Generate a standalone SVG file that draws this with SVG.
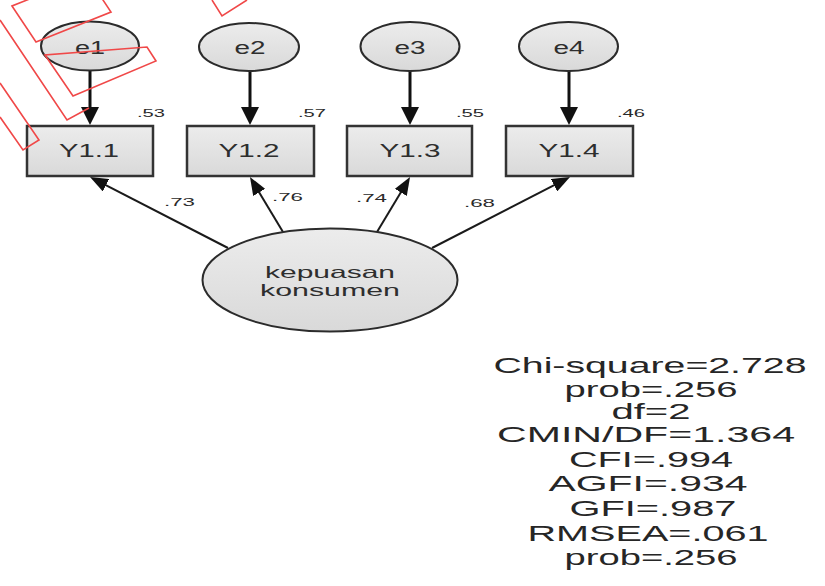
<svg xmlns="http://www.w3.org/2000/svg" width="825" height="586" viewBox="0 0 825 586">
  <defs>
    <linearGradient id="shade" x1="0" y1="0" x2="0" y2="1">
      <stop offset="0" stop-color="#ececec"/>
      <stop offset="1" stop-color="#d9d9d9"/>
    </linearGradient>
    <!-- arrowhead for the vertical error paths -->
    <marker id="headV" markerUnits="userSpaceOnUse" markerWidth="18" markerHeight="18" viewBox="0 0 18 18" refX="9" refY="9" orient="auto">
      <path d="M0,0 L18,9 L0,18 z" fill="#111"/>
    </marker>
    <!-- arrowhead for the factor loadings -->
    <marker id="headD" markerUnits="userSpaceOnUse" markerWidth="18" markerHeight="14" viewBox="0 0 18 14" refX="9" refY="7" orient="auto">
      <path d="M0,0 L18,7 L0,14 z" fill="#111"/>
    </marker>
    <style>
      .lat { fill: url(#shade); stroke: #2b2b2b; stroke-width: 2; }
      .obs { fill: url(#shade); stroke: #333; stroke-width: 2.5; }
      .lbl { font-family: "Liberation Sans", Arial, sans-serif; fill: #2e2e2e; text-anchor: middle; }
      .num { font-family: "Liberation Sans", Arial, sans-serif; fill: #2a2a2a; font-size: 11px; }
      .stat { font-family: "Liberation Sans", Arial, sans-serif; fill: #262626; font-size: 21.5px; text-anchor: middle; }
      .err { stroke: #111; stroke-width: 3; fill: none; }
      .load { stroke: #1a1a1a; stroke-width: 2; fill: none; }
      .mark { stroke: #f04848; stroke-width: 1.6; fill: none; }
    </style>
  </defs>

  <rect width="825" height="586" fill="#ffffff"/>

  <!-- connectors -->
  <g id="connectors">
    <line class="err" x1="90" y1="71" x2="90" y2="116" marker-end="url(#headV)"/>
    <line class="err" x1="250" y1="71" x2="250" y2="116" marker-end="url(#headV)"/>
    <line class="err" x1="410" y1="71" x2="410" y2="116" marker-end="url(#headV)"/>
    <line class="err" x1="569" y1="71" x2="569" y2="116" marker-end="url(#headV)"/>
    <line class="load" x1="228" y1="248" x2="98" y2="181.1" marker-end="url(#headD)"/>
    <line class="load" x1="283" y1="232" x2="254.6" y2="184.7" marker-end="url(#headD)"/>
    <line class="load" x1="377" y1="232" x2="405.4" y2="184.7" marker-end="url(#headD)"/>
    <line class="load" x1="432" y1="248" x2="562" y2="181.1" marker-end="url(#headD)"/>
  </g>

  <!-- error terms -->
  <g id="e1"><ellipse class="lat" cx="90" cy="46" rx="49" ry="24.5"/><text class="lbl" x="90" y="53.5" font-size="18" textLength="30" lengthAdjust="spacingAndGlyphs">e1</text></g>
  <g id="e2"><ellipse class="lat" cx="249" cy="47" rx="50" ry="24"/><text class="lbl" x="250" y="53.5" font-size="18" textLength="31" lengthAdjust="spacingAndGlyphs">e2</text></g>
  <g id="e3"><ellipse class="lat" cx="410" cy="46.5" rx="49.5" ry="24.5"/><text class="lbl" x="410" y="53.5" font-size="18" textLength="31" lengthAdjust="spacingAndGlyphs">e3</text></g>
  <g id="e4"><ellipse class="lat" cx="568.5" cy="46.5" rx="49.5" ry="24.5"/><text class="lbl" x="569" y="53.5" font-size="18" textLength="31" lengthAdjust="spacingAndGlyphs">e4</text></g>

  <!-- indicators -->
  <g id="Y1.1"><rect class="obs" x="27" y="126" width="126" height="50"/><text class="lbl" x="89" y="157" font-size="19" textLength="60" lengthAdjust="spacingAndGlyphs">Y1.1</text><text class="num" x="137" y="117" textLength="28" lengthAdjust="spacingAndGlyphs">.53</text></g>
  <g id="Y1.2"><rect class="obs" x="187" y="126" width="127" height="50"/><text class="lbl" x="249" y="157" font-size="19" textLength="61" lengthAdjust="spacingAndGlyphs">Y1.2</text><text class="num" x="298" y="117" textLength="28" lengthAdjust="spacingAndGlyphs">.57</text></g>
  <g id="Y1.3"><rect class="obs" x="347" y="126" width="125" height="50"/><text class="lbl" x="410" y="157" font-size="19" textLength="61" lengthAdjust="spacingAndGlyphs">Y1.3</text><text class="num" x="456" y="117" textLength="28" lengthAdjust="spacingAndGlyphs">.55</text></g>
  <g id="Y1.4"><rect class="obs" x="506" y="126" width="127" height="50"/><text class="lbl" x="569" y="157" font-size="19" textLength="61" lengthAdjust="spacingAndGlyphs">Y1.4</text><text class="num" x="617" y="117" textLength="28" lengthAdjust="spacingAndGlyphs">.46</text></g>

  <!-- loading estimates -->
  <g id="loadings">
    <text class="num" x="164" y="206" textLength="31" lengthAdjust="spacingAndGlyphs">.73</text>
    <text class="num" x="272" y="201" textLength="31" lengthAdjust="spacingAndGlyphs">.76</text>
    <text class="num" x="356" y="202" textLength="31" lengthAdjust="spacingAndGlyphs">.74</text>
    <text class="num" x="464" y="207" textLength="31" lengthAdjust="spacingAndGlyphs">.68</text>
  </g>

  <!-- latent factor -->
  <g id="kepuasan-konsumen">
    <ellipse class="lat" cx="330" cy="280" rx="127.5" ry="51.5"/>
    <text class="lbl" x="330" y="278" font-size="16.5" textLength="130" lengthAdjust="spacingAndGlyphs">kepuasan</text>
    <text class="lbl" x="330" y="296" font-size="16.5" textLength="140" lengthAdjust="spacingAndGlyphs">konsumen</text>
  </g>

  <!-- fit statistics -->
  <g id="fit">
    <text class="stat" x="650" y="373" textLength="313" lengthAdjust="spacingAndGlyphs">Chi-square=2.728</text>
    <text class="stat" x="651" y="397" textLength="173" lengthAdjust="spacingAndGlyphs">prob=.256</text>
    <text class="stat" x="651" y="419" textLength="79" lengthAdjust="spacingAndGlyphs">df=2</text>
    <text class="stat" x="646" y="442" textLength="298" lengthAdjust="spacingAndGlyphs">CMIN/DF=1.364</text>
    <text class="stat" x="651" y="467" textLength="164" lengthAdjust="spacingAndGlyphs">CFI=.994</text>
    <text class="stat" x="648" y="491" textLength="199" lengthAdjust="spacingAndGlyphs">AGFI=.934</text>
    <text class="stat" x="653" y="516" textLength="167" lengthAdjust="spacingAndGlyphs">GFI=.987</text>
    <text class="stat" x="648" y="541" textLength="241" lengthAdjust="spacingAndGlyphs">RMSEA=.061</text>
    <text class="stat" x="651" y="565" textLength="173" lengthAdjust="spacingAndGlyphs">prob=.256</text>
  </g>

  <!-- red outline marks over the upper left -->
  <g id="marks">
    <polygon class="mark" points="12,6 36,42 111,12 87,-24"/>
    <polygon class="mark" points="45,55 73,96 156,61 147,47"/>
    <polyline class="mark" points="0,20 67,120 89,108"/>
    <polyline class="mark" points="0,83 39,140 23,150 0,117"/>
    <polyline class="mark" points="212,0 222,16 247,0"/>
  </g>
</svg>
